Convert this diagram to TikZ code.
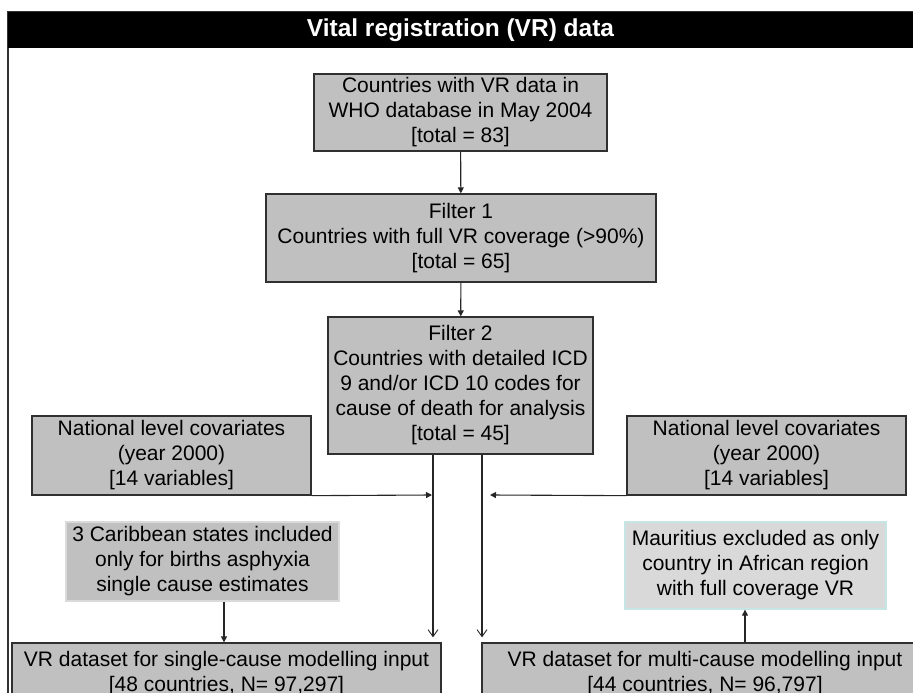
\documentclass[tikz,border=0pt]{standalone}
\usepackage{fontspec}
\setmainfont{Liberation Sans}
\usetikzlibrary{arrows.meta}
\definecolor{boxgray}{HTML}{C0C0C0}
\definecolor{palegray}{HTML}{D9D9D9}
\definecolor{edgegray}{HTML}{303030}
\definecolor{paleedge}{HTML}{DADADA}
\definecolor{cyanedge}{HTML}{C6E6E6}
\begin{document}
\begin{tikzpicture}[x=1pt,y=-1pt,
  box/.style={draw=edgegray, line width=1.3pt, fill=boxgray, align=center,
    font=\fontsize{21}{25}\selectfont, inner sep=0pt, anchor=center},
  softbox/.style={box, draw=paleedge},
  notebox/.style={box, fill=palegray, draw=cyanedge},
  conn/.style={line width=1.1pt, draw=black!85},
  fat/.style={conn, -{Triangle[length=6pt,width=6pt]}},
  vee/.style={conn, -{Straight Barb[length=7pt,width=10pt,line width=0.9pt]}, shorten >=5pt}
]
\useasboundingbox (0,0) rectangle (913,693);
% outer frame and header
\draw[line width=2pt, draw=black!80] (8,12) rectangle (930,720);
\node (hdr) [fill=black, minimum width=905pt, minimum height=36pt, inner sep=0pt,
  text=white, font=\fontsize{24.5}{28}\selectfont\bfseries] at (460.5,30) {Vital registration (VR) data};

\node (b1) [box, minimum width=293pt, minimum height=77pt] at (460.5,112.5)
  {\raisebox{-4pt}{\begin{tabular}{@{}c@{}}Countries with VR data in\\WHO database in May 2004\\{}[total = 83]\end{tabular}}};
\node (b2) [box, minimum width=390pt, minimum height=88pt] at (461,238)
  {Filter 1\\Countries with full VR coverage (>90\%)\\{}[total = 65]};
\node (b3) [box, minimum width=265pt, minimum height=137pt] at (460.5,385.5)
  {Filter 2\\Countries with detailed ICD\\9 and/or ICD 10 codes for\\cause of death for analysis\\{}[total = 45]};
\node (lcov) [box, minimum width=279pt, minimum height=79pt] at (171.5,455.5)
  {National level covariates\\(year 2000)\\{}[14 variables]};
\node (rcov) [box, minimum width=279pt, minimum height=79pt] at (766.5,455.5)
  {National level covariates\\(year 2000)\\{}[14 variables]};
\node (carib) [softbox, minimum width=273pt, minimum height=79pt] at (202.5,561.5)
  {3 Caribbean states included\\only for births asphyxia\\single cause estimates};
\node (maur) [notebox, minimum width=261pt, minimum height=87pt] at (755.5,565.5)
  {Mauritius excluded as only\\country in African region\\with full coverage VR};
\node (botl) [box, minimum width=429pt, minimum height=62pt] at (226.5,674)
  {VR dataset for single-cause modelling input\\{}[48 countries, N= 97,297]};
\node (botr) [box, minimum width=446pt, minimum height=62pt] at (705,674)
  {VR dataset for multi-cause modelling input\\{}[44 countries, N= 96,797]};

\coordinate (lx) at (433,0);
\coordinate (rx) at (482,0);
\coordinate (jl) at (432,495);
\coordinate (jr) at (490,495);
\coordinate (cx) at (224,0);
\coordinate (mx) at (745,0);

\draw[fat] (b1) -- (b2);
\draw[fat] (b2) -- (b3);
\draw[vee] (b3.south -| lx) -- (botl.north -| lx);
\draw[vee] (b3.south -| rx) -- (botr.north -| rx);
\draw[fat] (lcov.south east) -- (jl);
\draw[fat] (rcov.south west) -- (jr);
\draw[fat] (carib.south -| cx) -- (botl.north -| cx);
\draw[fat] (botr.north -| mx) -- (maur.south -| mx);
\end{tikzpicture}
\end{document}
